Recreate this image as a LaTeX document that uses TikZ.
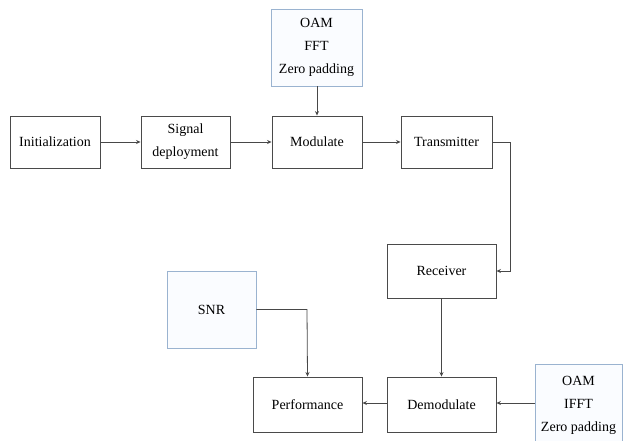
\documentclass[tikz,border=0pt]{standalone}
\usepackage{fontspec}
\setmainfont{Liberation Serif}
\usetikzlibrary{arrows.meta}
\definecolor{boxline}{HTML}{4A4A4A}
\definecolor{blueline}{HTML}{9AB3D0}
\definecolor{bluefill}{HTML}{FAFCFF}
\definecolor{wire}{HTML}{484848}
\tikzset{
  blk/.style={draw=boxline, line width=0.9pt, fill=white, align=center, inner sep=0pt,
    font=\fontsize{14}{23}\selectfont, text=black},
  bluebox/.style={blk, draw=blueline, fill=bluefill},
  wirearrow/.style={draw=wire, line width=0.8pt, -{Stealth[length=4.5pt,width=4pt]}}
}
\begin{document}
\begin{tikzpicture}[x=1pt,y=-1pt]
\useasboundingbox (0,0) rectangle (625,440);
\node[blk, minimum width=90pt, minimum height=52pt] (init) at (55,142) {Initialization};
\node[blk, minimum width=89pt, minimum height=52pt] (sig) at (185.5,142) {Signal\\deployment};
\node[blk, minimum width=90pt, minimum height=52pt] (mod) at (317,142) {Modulate};
\node[bluebox, minimum width=91pt, minimum height=77pt] (fft) at (316.5,47.5) {OAM\\FFT\\Zero padding};
\node[blk, minimum width=91pt, minimum height=52pt] (trans) at (446.5,142) {Transmitter};
\node[blk, minimum width=109pt, minimum height=54pt] (recv) at (441.5,271) {Receiver};
\node[blk, minimum width=109pt, minimum height=55pt] (demod) at (441.5,404.5) {Demodulate};
\node[blk, minimum width=109pt, minimum height=55pt] (perf) at (307.5,404.5) {Performance};
\node[bluebox, minimum width=89pt, minimum height=77pt] (snr) at (211.5,309.5) {SNR};
\node[bluebox, minimum width=87pt, minimum height=82pt] (ifft) at (578.5,405) {OAM\\IFFT\\Zero padding};
\draw[wirearrow] (init) -- (sig);
\draw[wirearrow] (sig) -- (mod);
\draw[wirearrow] (mod) -- (trans);
\draw[wirearrow] (fft.south -| mod.north) -- (mod.north);
\draw[wirearrow] (trans.east) -- ++(18,0) |- (recv.east);
\draw[wirearrow] (recv) -- (demod);
\draw[wirearrow] (ifft.west |- 0,403) -- (demod.east |- 0,403);
\draw[wirearrow] (demod.west |- 0,403) -- (perf.east |- 0,403);
\draw[wirearrow] (snr.east) -- (307,309.5) -- (perf.north);
\end{tikzpicture}
\end{document}
